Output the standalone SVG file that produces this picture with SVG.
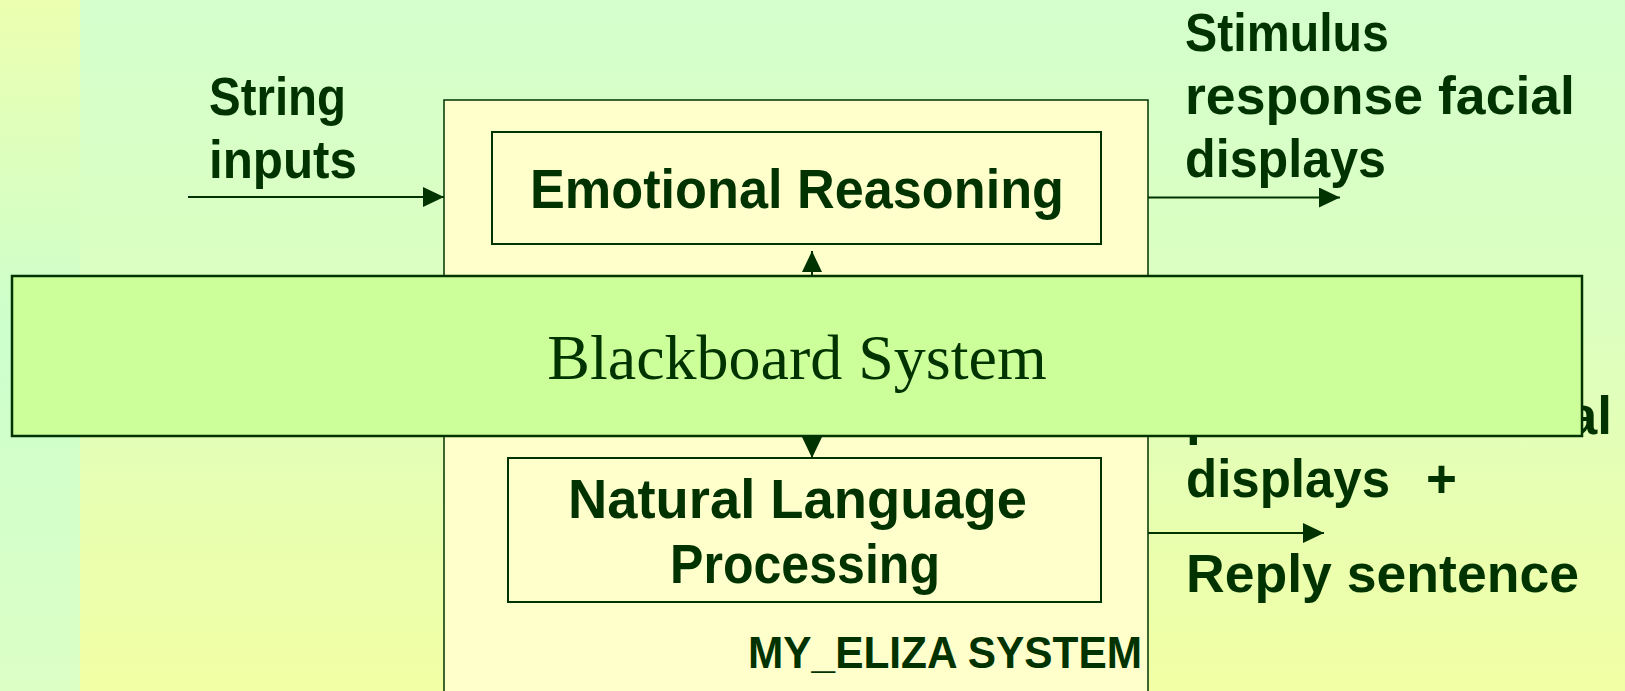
<svg xmlns="http://www.w3.org/2000/svg" width="1625" height="691" viewBox="0 0 1625 691">
  <defs>
    <linearGradient id="bgMain" x1="0" y1="0" x2="0" y2="1">
      <stop offset="0" stop-color="#d4ffcc"/>
      <stop offset="0.45" stop-color="#dcffc0"/>
      <stop offset="1" stop-color="#f2ffa4"/>
    </linearGradient>
    <linearGradient id="bgStrip" x1="0" y1="0" x2="0" y2="1">
      <stop offset="0" stop-color="#ecffb0"/>
      <stop offset="0.48" stop-color="#ccffcc"/>
      <stop offset="1" stop-color="#dcffc6"/>
    </linearGradient>
    <marker id="arrow" markerUnits="userSpaceOnUse" markerWidth="22" markerHeight="20" refX="21" refY="10" orient="auto">
      <path d="M0,0 L21,10 L0,20 Z" fill="#003300"/>
    </marker>
    <style>
      .box { fill: #ffffcc; stroke: #003300; stroke-width: 2; }
      .outer { fill: #ffffcc; stroke: #003300; stroke-width: 1.5; }
      .board { fill: #ccff99; stroke: #003300; stroke-width: 2.5; }
      .lbl { font-family: "Liberation Sans", Arial, sans-serif; font-weight: bold; fill: #003300; }
      .serif { font-family: "Liberation Serif", "Times New Roman", serif; fill: #003300; }
      .conn { stroke: #003300; stroke-width: 2; fill: none; marker-end: url(#arrow); }
    </style>
  </defs>

  <!-- background -->
  <rect x="0" y="0" width="1625" height="691" fill="url(#bgMain)"/>
  <rect x="0" y="0" width="80" height="691" fill="url(#bgStrip)"/>

  <!-- outer system frame -->
  <g id="my-eliza-system">
    <rect class="outer" x="444" y="100" width="704" height="620"/>
    <text class="lbl" x="1142" y="668" font-size="44" text-anchor="end" textLength="394" lengthAdjust="spacingAndGlyphs">MY_ELIZA SYSTEM</text>
  </g>

  <g id="emotional-reasoning">
    <rect class="box" x="492" y="132" width="609" height="112"/>
    <text class="lbl" x="530" y="208" font-size="55" textLength="534" lengthAdjust="spacingAndGlyphs">Emotional Reasoning</text>
  </g>

  <g id="natural-language-processing">
    <rect class="box" x="508" y="458" width="593" height="144"/>
    <text class="lbl" x="568" y="518" font-size="55" textLength="459" lengthAdjust="spacingAndGlyphs">Natural Language</text>
    <text class="lbl" x="670" y="583" font-size="55" textLength="270" lengthAdjust="spacingAndGlyphs">Processing</text>
  </g>

  <g id="string-inputs">
    <text class="lbl" x="209" y="115" font-size="53" textLength="137" lengthAdjust="spacingAndGlyphs">String</text>
    <text class="lbl" x="209" y="178" font-size="53" textLength="148" lengthAdjust="spacingAndGlyphs">inputs</text>
  </g>

  <g id="stimulus-output">
    <text class="lbl" x="1185" y="51" font-size="53" textLength="204" lengthAdjust="spacingAndGlyphs">Stimulus</text>
    <text class="lbl" x="1185" y="114" font-size="53" textLength="390" lengthAdjust="spacingAndGlyphs">response facial</text>
    <text class="lbl" x="1185" y="177" font-size="53" textLength="201" lengthAdjust="spacingAndGlyphs">displays</text>
  </g>

  <g id="reply-output">
    <text class="lbl" x="1186" y="434" font-size="53">p</text>
    <text class="lbl" x="1612" y="434" font-size="53" text-anchor="end">al</text>
    <text class="lbl" x="1186" y="497" font-size="53" textLength="204" lengthAdjust="spacingAndGlyphs">displays</text>
    <text class="lbl" x="1426" y="497" font-size="53">+</text>
    <text class="lbl" x="1186" y="592" font-size="53" textLength="393" lengthAdjust="spacingAndGlyphs">Reply sentence</text>
  </g>

  <!-- connectors -->
  <g id="connectors">
    <line class="conn" x1="188" y1="197" x2="444" y2="197"/>
    <line class="conn" x1="1148" y1="197.5" x2="1340" y2="197.5"/>
    <line class="conn" x1="1148" y1="533" x2="1324" y2="533"/>
    <line class="conn" x1="812" y1="277" x2="812" y2="251"/>
    <line class="conn" x1="812" y1="435" x2="812" y2="458"/>
  </g>

  <g id="blackboard-system">
    <rect class="board" x="12" y="276" width="1570" height="160"/>
    <text class="serif" x="797" y="379" font-size="64" text-anchor="middle">Blackboard System</text>
  </g>
</svg>
